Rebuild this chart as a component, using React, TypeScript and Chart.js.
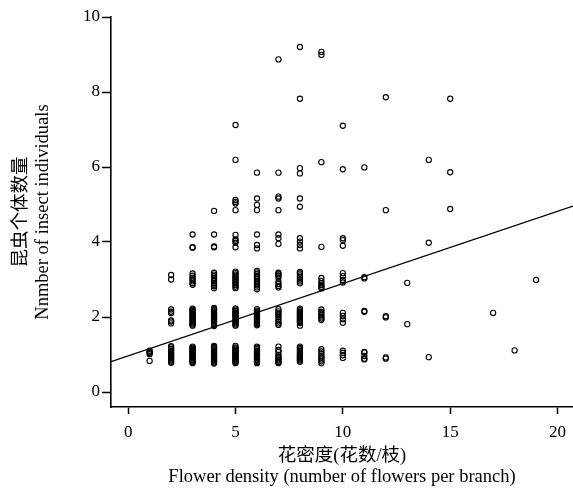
import { useEffect, useRef } from "react";
import { Chart, registerables } from "chart.js";

Chart.register(...registerables);

// Flower density (x) levels and insect counts observed at each level (y)
const densityLevels = [1, 2, 3, 4, 5, 6, 7, 8, 9, 10, 11, 12, 13, 14, 15, 17, 18, 19];

const insectsAt1 = [0.83, 1.01, 1.04, 1.07, 1.1];
const insectsAt2 = [0.78, 0.81, 0.84, 0.87, 0.9, 0.93, 0.96, 0.99, 1.02, 1.05, 1.08, 1.11, 1.15, 1.19, 1.22, 1.83, 1.88, 1.91, 2.1, 2.14, 2.2, 3.0, 3.12];
const insectsAt3 = [0.77, 0.8, 0.82, 0.85, 0.87, 0.9, 0.92, 0.95, 0.97, 1.0, 1.02, 1.05, 1.07, 1.1, 1.12, 1.15, 1.18, 1.21, 1.77, 1.8, 1.83, 1.86, 1.89, 1.92, 1.95, 1.98, 2.01, 2.04, 2.07, 2.1, 2.13, 2.16, 2.19, 2.22, 2.86, 2.9, 2.95, 3.0, 3.05, 3.1, 3.16, 3.85, 3.86, 4.2];
const insectsAt4 = [0.76, 0.79, 0.81, 0.84, 0.86, 0.89, 0.91, 0.94, 0.96, 0.99, 1.01, 1.04, 1.06, 1.09, 1.11, 1.14, 1.17, 1.2, 1.23, 1.76, 1.79, 1.82, 1.85, 1.88, 1.91, 1.94, 1.97, 2.0, 2.03, 2.06, 2.09, 2.12, 2.15, 2.18, 2.21, 2.24, 2.77, 2.82, 2.86, 2.9, 2.95, 3.0, 3.04, 3.09, 3.13, 3.18, 3.86, 3.88, 4.2, 4.83];
const insectsAt5 = [0.77, 0.8, 0.82, 0.85, 0.88, 0.9, 0.93, 0.95, 0.98, 1.0, 1.03, 1.05, 1.08, 1.1, 1.13, 1.16, 1.19, 1.23, 1.77, 1.8, 1.83, 1.86, 1.89, 1.92, 1.95, 1.98, 2.01, 2.04, 2.07, 2.1, 2.13, 2.16, 2.2, 2.23, 2.77, 2.81, 2.85, 2.89, 2.93, 2.97, 3.01, 3.05, 3.09, 3.13, 3.17, 3.21, 3.86, 3.98, 4.03, 4.07, 4.19, 4.85, 5.03, 5.07, 5.12, 6.19, 7.12];
const insectsAt6 = [0.77, 0.8, 0.83, 0.86, 0.89, 0.92, 0.95, 0.98, 1.01, 1.04, 1.07, 1.1, 1.14, 1.18, 1.21, 1.78, 1.81, 1.84, 1.87, 1.9, 1.93, 1.96, 1.99, 2.02, 2.05, 2.08, 2.11, 2.14, 2.17, 2.21, 2.74, 2.79, 2.84, 2.88, 2.92, 2.97, 3.02, 3.06, 3.1, 3.15, 3.19, 3.23, 3.83, 3.92, 4.2, 4.85, 4.99, 5.16, 5.85];
const insectsAt7 = [0.77, 0.8, 0.84, 0.87, 0.91, 0.95, 0.99, 1.07, 1.12, 1.21, 1.79, 1.83, 1.88, 1.94, 2.0, 2.05, 2.1, 2.15, 2.21, 2.79, 2.83, 2.88, 2.94, 3.05, 3.1, 3.14, 3.18, 3.95, 4.1, 4.2, 4.85, 5.16, 5.21, 5.85, 8.87];
const insectsAt8 = [0.81, 0.84, 0.87, 0.9, 0.93, 0.96, 0.99, 1.02, 1.06, 1.1, 1.14, 1.18, 1.21, 1.77, 1.84, 1.87, 1.9, 1.93, 1.96, 1.99, 2.02, 2.05, 2.08, 2.11, 2.14, 2.18, 2.22, 2.9, 2.95, 3.0, 3.06, 3.11, 3.16, 3.2, 3.83, 3.92, 4.01, 4.1, 4.94, 5.16, 5.83, 5.97, 7.82, 9.2];
const insectsAt9 = [0.77, 0.82, 0.87, 0.92, 0.97, 1.03, 1.08, 1.14, 1.92, 1.96, 2.01, 2.05, 2.1, 2.14, 2.2, 2.76, 2.8, 2.85, 2.9, 2.96, 3.04, 3.87, 6.13, 8.99, 9.07];
const insectsAt10 = [0.91, 0.98, 1.04, 1.1, 1.85, 1.94, 2.03, 2.11, 2.92, 2.99, 3.09, 3.17, 3.9, 4.05, 4.1, 5.94, 7.1];
const insectsAt11 = [0.87, 0.89, 0.96, 1.05, 1.07, 2.14, 2.16, 3.03, 3.06, 5.99];
const insectsAt12 = [0.89, 0.92, 1.99, 2.02, 4.85, 7.86];
const insectsAt13 = [1.81, 2.91];
const insectsAt14 = [0.93, 3.98, 6.19];
const insectsAt15 = [4.88, 5.86, 7.82];
const insectsAt17 = [2.11];
const insectsAt18 = [1.11];
const insectsAt19 = [2.99];

const insectsByLevel = [
  insectsAt1, insectsAt2, insectsAt3, insectsAt4, insectsAt5, insectsAt6,
  insectsAt7, insectsAt8, insectsAt9, insectsAt10, insectsAt11, insectsAt12,
  insectsAt13, insectsAt14, insectsAt15, insectsAt17, insectsAt18, insectsAt19,
];

// Fitted regression line: y = intercept + slope * x
const fitIntercept = 0.964;
const fitSlope = 0.1928;

const xTicks = [0, 5, 10, 15, 20];
const yTicks = [0, 2, 4, 6, 8, 10];
const xRange = [-0.8, 20.72];
const yRange = [-0.4, 10];

const xTitle = ["花密度(花数/枝)", "Flower density (number of flowers per branch)"];
const yTitle = ["昆虫个体数量", "Nnmber of insect individuals"];

const FONT = '"Liberation Serif", "Noto Sans CJK SC", serif';

export default function App() {
  const canvasRef = useRef<HTMLCanvasElement | null>(null);

  useEffect(() => {
    document.body.style.margin = "0";
    const canvas = canvasRef.current;
    if (!canvas) return;

    const points: { x: number; y: number }[] = [];
    densityLevels.forEach((lvl, i) => {
      insectsByLevel[i].forEach((v) => points.push({ x: lvl, y: v }));
    });

    const fitLine = [
      { x: xRange[0], y: fitIntercept + fitSlope * xRange[0] },
      { x: xRange[1], y: fitIntercept + fitSlope * xRange[1] },
    ];

    const chart = new Chart(canvas, {
      type: "scatter",
      data: {
        datasets: [
          {
            type: "line",
            data: fitLine,
            borderColor: "#000",
            borderWidth: 1.3,
            pointRadius: 0,
            fill: false,
            order: 0,
          } as any,
          {
            data: points,
            pointStyle: "circle",
            pointRadius: 2.6,
            pointBorderWidth: 1.1,
            pointBorderColor: "#000",
            pointBackgroundColor: "rgba(0,0,0,0)",
            borderColor: "#000",
            backgroundColor: "rgba(0,0,0,0)",
            order: 1,
          },
        ],
      },
      options: {
        animation: false,
        responsive: false,
        maintainAspectRatio: false,
        layout: { autoPadding: false, padding: { top: 17, right: 0, left: 0, bottom: 0 } },
        plugins: { legend: { display: false }, tooltip: { enabled: false } },
        scales: {
          x: {
            type: "linear",
            min: xRange[0],
            max: xRange[1],
            afterBuildTicks: (s: any) => {
              s.ticks = xTicks.map((v) => ({ value: v }));
            },
            afterFit: (s: any) => {
              s.height = 84;
              s.paddingRight = 0;
              s.paddingLeft = 0;
            },
            grid: {
              display: true,
              drawOnChartArea: false,
              drawTicks: true,
              tickLength: 7,
              tickWidth: 1.5,
              tickColor: "#000",
              color: "#000",
            },
            border: { display: true, color: "#000", width: 1.6 },
            ticks: {
              color: "#000",
              font: { family: FONT, size: 17 },
              padding: 8,
              maxRotation: 0,
            },
            title: {
              display: true,
              text: xTitle,
              color: "#000",
              font: { family: FONT, size: 18.5, lineHeight: 1.15 },
              padding: { top: 3, bottom: 3 },
            },
          },
          y: {
            type: "linear",
            min: yRange[0],
            max: yRange[1],
            afterBuildTicks: (s: any) => {
              s.ticks = yTicks.map((v) => ({ value: v }));
            },
            afterFit: (s: any) => {
              s.width = 111;
              s.paddingTop = 0;
              s.paddingBottom = 0;
            },
            grid: {
              display: true,
              drawOnChartArea: false,
              drawTicks: true,
              tickLength: 9,
              tickWidth: 1.5,
              tickColor: "#000",
              color: "#000",
            },
            border: { display: true, color: "#000", width: 1.6 },
            ticks: {
              color: "#000",
              font: { family: FONT, size: 17 },
              padding: 2,
            },
            title: {
              display: true,
              text: yTitle,
              color: "#000",
              font: { family: FONT, size: 18.5, lineHeight: 1.2 },
              padding: { top: 10, bottom: 0 },
            },
          },
        },
      },
    });

    return () => chart.destroy();
  }, []);

  return (
    <div style={{ position: "relative", width: 573, height: 491 }}>
      <canvas ref={canvasRef} width={573} height={491} style={{ width: 573, height: 491 }} />
    </div>
  );
}
